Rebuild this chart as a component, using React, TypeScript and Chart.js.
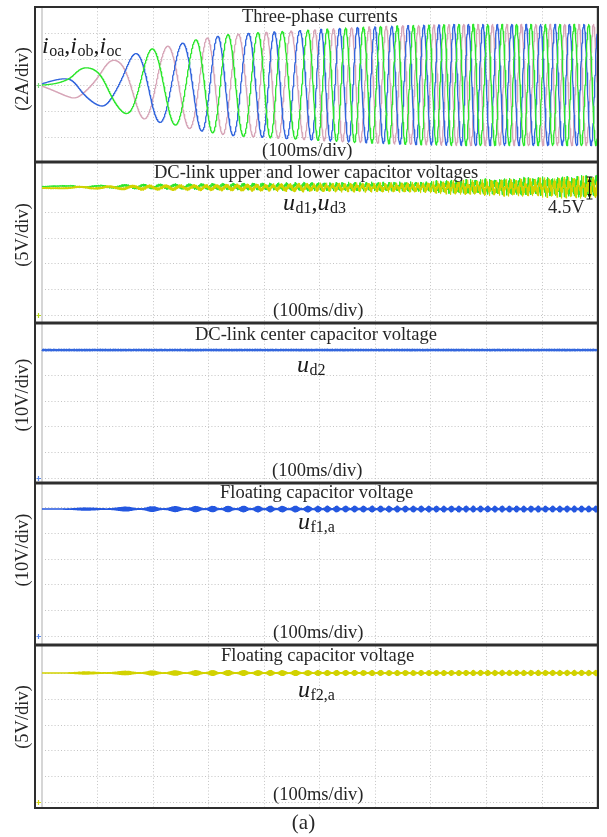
import { useEffect, useRef } from "react";
import { Chart, registerables } from "chart.js";

Chart.register(...registerables);

const FONT = '"Liberation Serif", "Times New Roman", serif';
const TEXT_COLOR = "#262626";

// Time axis in ms (100 ms per division)
const T_START = -12.6;
const T_END = 1001.8;
const T_RECORD = 1000;
const SAMPLE_MS = 0.5;
const X_GRID_MS = [100, 200, 300, 400, 500, 600, 700, 800, 900];

// Phase-a electrical angle (in cycles) at the instants where the currents peak
const phaseKnotMs = [0, 47, 74, 104, 126, 150, 168, 198, 277, 335, 389, 433, 479, 514, 547, 579, 610, 640, 669, 697, 724, 751, 777, 803, 829, 855, 881, 907, 933, 959, 985];
const phaseKnotCycles = [0, 0.083, 0.25, 0.417, 0.583, 0.75, 0.917, 1.25, 2.25, 3.25, 4.25, 5.25, 6.25, 7.25, 8.25, 9.25, 10.25, 11.25, 12.25, 13.25, 14.25, 15.25, 16.25, 17.25, 18.25, 19.25, 20.25, 21.25, 22.25, 23.25, 24.25];

// Output current peak amplitude (A)
const currentEnvMs = [0, 40, 74, 104, 150, 198, 240, 277, 335, 389, 479, 560, 650, 750, 1000];
const currentEnvA = [0.1, 0.8, 1.3, 1.6, 2.2, 2.8, 3.1, 3.5, 3.9, 4.05, 4.25, 4.45, 4.6, 4.7, 4.7];

// DC-link upper / lower capacitor voltages (V)
const ud1Level = 24.9;
const ud3Level = 24.7;
const udRippleMs = [0, 100, 170, 300, 465, 690, 720, 850, 1000];
const udRippleV = [0.2, 0.3, 0.5, 0.6, 0.8, 0.95, 1.25, 1.65, 2.2];

// DC-link center capacitor voltage (V)
const ud2Level = 49.6;
const ud2RippleV = 0.28;

// Floating capacitor voltages (V)
const uf1Level = 49.2;
const uf1RippleMs = [0, 30, 100, 200, 300, 500, 1000];
const uf1RippleV = [0, 0.1, 0.5, 0.85, 0.98, 1.05, 1.08];
const uf2Level = 25.0;
const uf2RippleMs = [0, 30, 100, 200, 300, 1000];
const uf2RippleV = [0, 0.05, 0.25, 0.38, 0.44, 0.47];

function linear(xs: number[], ys: number[]) {
  return (x: number) => {
    if (x <= xs[0]) return ys[0];
    if (x >= xs[xs.length - 1]) return ys[ys.length - 1];
    let i = 0;
    while (x > xs[i + 1]) i++;
    const f = (x - xs[i]) / (xs[i + 1] - xs[i]);
    return ys[i] + f * (ys[i + 1] - ys[i]);
  };
}

function monotone(xs: number[], ys: number[]) {
  const n = xs.length;
  const h: number[] = [];
  const d: number[] = [];
  for (let i = 0; i < n - 1; i++) {
    h[i] = xs[i + 1] - xs[i];
    d[i] = (ys[i + 1] - ys[i]) / h[i];
  }
  const m: number[] = new Array(n);
  m[0] = d[0];
  m[n - 1] = d[n - 2];
  for (let i = 1; i < n - 1; i++) {
    if (d[i - 1] * d[i] <= 0) m[i] = 0;
    else {
      const w1 = 2 * h[i] + h[i - 1];
      const w2 = h[i] + 2 * h[i - 1];
      m[i] = (w1 + w2) / (w1 / d[i - 1] + w2 / d[i]);
    }
  }
  return (x: number) => {
    if (x <= xs[0]) return ys[0] + m[0] * (x - xs[0]);
    if (x >= xs[n - 1]) return ys[n - 1] + m[n - 1] * (x - xs[n - 1]);
    let i = 0;
    while (x > xs[i + 1]) i++;
    const t = (x - xs[i]) / h[i];
    const t2 = t * t;
    const t3 = t2 * t;
    return (
      (2 * t3 - 3 * t2 + 1) * ys[i] +
      (t3 - 2 * t2 + t) * h[i] * m[i] +
      (-2 * t3 + 3 * t2) * ys[i + 1] +
      (t3 - t2) * h[i] * m[i + 1]
    );
  };
}

const phaseAt = monotone(phaseKnotMs, phaseKnotCycles);
const currentEnv = linear(currentEnvMs, currentEnvA);
const udEnv = linear(udRippleMs, udRippleV);
const uf1Env = linear(uf1RippleMs, uf1RippleV);
const uf2Env = linear(uf2RippleMs, uf2RippleV);

type Pt = { x: number; y: number };

function sampleTimes(): number[] {
  const out: number[] = [];
  for (let t = 0; t <= T_RECORD + 1e-9; t += SAMPLE_MS) out.push(+t.toFixed(3));
  return out;
}
const times = sampleTimes();
const TWO_PI = Math.PI * 2;

function phaseCurrent(shift: number): Pt[] {
  return times.map((t) => ({ x: t, y: currentEnv(t) * Math.sin(TWO_PI * (phaseAt(t) - shift)) }));
}

function dcLinkSide(level: number, sign: number, offset: number): Pt[] {
  return times.map((t, i) => {
    const th = phaseAt(t);
    const alt = (i >> 1) % 2 === 0 ? 1 : -1;
    const w = 0.45 + 0.55 * Math.abs(Math.sin(TWO_PI * (t / 7.7 + offset)));
    const low = 0.55 * Math.sin(TWO_PI * (3 * th + offset));
    return { x: t, y: level + sign * udEnv(t) * (low + 0.5 * alt * w) };
  });
}

function centerCap(): Pt[] {
  return times.map((t, i) => {
    const alt = i % 2 === 0 ? 1 : -1;
    const w = 0.4 + 0.6 * Math.abs(Math.sin(TWO_PI * t / 9.3));
    return { x: t, y: ud2Level + ud2RippleV * alt * w };
  });
}

function floatingCap(level: number, env: (t: number) => number): Pt[] {
  return times.map((t, i) => {
    const alt = i % 2 === 0 ? 1 : -1;
    const bead = Math.pow(Math.abs(Math.sin(TWO_PI * phaseAt(t))), 3);
    return { x: t, y: level + env(t) * (0.12 + 0.88 * bead) * alt };
  });
}

type Txt = { text: string; x: number; y: number };
type SubLabel = { x: number; y: number; parts: [string, string][] };
type PanelDef = {
  top: number;
  bottom: number;
  groundPx: number;
  perDiv: number;
  yGrid: number[];
  title: Txt;
  scaleNote: Txt;
  yLabel: Txt;
  label: SubLabel;
  markerColor: string;
  series: { data: Pt[]; color: string; width: number }[];
  extra?: (ctx: CanvasRenderingContext2D, top: number) => void;
};

const PX_PER_DIV = 25.8;
const GREEN = "#2de62d";
const PINK = "#d7a6b8";
const BLUE = "#3366dd";
const YELLOW = "#d2d200";

const panels: PanelDef[] = [
  {
    top: 7,
    bottom: 161.5,
    groundPx: 85,
    perDiv: 2,
    yGrid: [-4, -2, 0, 2, 4],
    title: { text: "Three-phase currents", x: 242, y: 22 },
    scaleNote: { text: "(100ms/div)", x: 262, y: 156 },
    yLabel: { text: "(2A/div)", x: 23, y: 79 },
    label: { x: 42, y: 53, parts: [["i", "oa"], ["i", "ob"], ["i", "oc"]] },
    markerColor: "#7ad87a",
    series: [
      { data: phaseCurrent(0), color: GREEN, width: 1.3 },
      { data: phaseCurrent(2 / 3), color: BLUE, width: 1.3 },
      { data: phaseCurrent(1 / 3), color: PINK, width: 1.3 },
    ],
  },
  {
    top: 162.5,
    bottom: 322.5,
    groundPx: 315,
    perDiv: 5,
    yGrid: [0, 5, 10, 15, 20, 25],
    title: { text: "DC-link upper and lower capacitor voltages", x: 154, y: 178 },
    scaleNote: { text: "(100ms/div)", x: 273, y: 316 },
    yLabel: { text: "(5V/div)", x: 23, y: 235 },
    label: { x: 283, y: 210, parts: [["u", "d1"], ["u", "d3"]] },
    markerColor: "#b8d820",
    series: [
      { data: dcLinkSide(ud3Level, -1, 0.13), color: YELLOW, width: 1.1 },
      { data: dcLinkSide(ud1Level, 1, 0.0), color: GREEN, width: 1.0 },
    ],
    extra: (ctx, top) => {
      ctx.save();
      ctx.fillStyle = TEXT_COLOR;
      ctx.font = `18.5px ${FONT}`;
      ctx.textBaseline = "alphabetic";
      ctx.textAlign = "left";
      ctx.fillText("4.5V", 548, 213 - top);
      ctx.strokeStyle = "#111";
      ctx.lineWidth = 1;
      const x = 589.5;
      const y1 = 177 - top;
      const y2 = 199 - top;
      ctx.beginPath();
      ctx.moveTo(x, y1);
      ctx.lineTo(x, y2);
      ctx.moveTo(x - 3, y1);
      ctx.lineTo(x + 3, y1);
      ctx.moveTo(x - 3, y2);
      ctx.lineTo(x + 3, y2);
      ctx.stroke();
      ctx.fillStyle = "#111";
      ctx.beginPath();
      ctx.moveTo(x, y1 + 1);
      ctx.lineTo(x - 2, y1 + 5);
      ctx.lineTo(x + 2, y1 + 5);
      ctx.closePath();
      ctx.moveTo(x, y2 - 1);
      ctx.lineTo(x - 2, y2 - 5);
      ctx.lineTo(x + 2, y2 - 5);
      ctx.closePath();
      ctx.fill();
      ctx.restore();
    },
  },
  {
    top: 323.5,
    bottom: 482.5,
    groundPx: 478,
    perDiv: 10,
    yGrid: [0, 10, 20, 30, 40, 50],
    title: { text: "DC-link center capacitor voltage", x: 195, y: 340 },
    scaleNote: { text: "(100ms/div)", x: 272, y: 476 },
    yLabel: { text: "(10V/div)", x: 23, y: 395 },
    label: { x: 297, y: 372, parts: [["u", "d2"]] },
    markerColor: "#5a88e8",
    series: [{ data: centerCap(), color: BLUE, width: 1.4 }],
  },
  {
    top: 483.5,
    bottom: 644.5,
    groundPx: 636,
    perDiv: 10,
    yGrid: [0, 10, 20, 30, 40, 50],
    title: { text: "Floating capacitor voltage", x: 220, y: 498 },
    scaleNote: { text: "(100ms/div)", x: 273, y: 638 },
    yLabel: { text: "(10V/div)", x: 23, y: 550 },
    label: { x: 298, y: 529, parts: [["u", "f1,a"]] },
    markerColor: "#5a88e8",
    series: [{ data: floatingCap(uf1Level, uf1Env), color: "#2457e0", width: 1.5 }],
  },
  {
    top: 645.5,
    bottom: 808,
    groundPx: 802,
    perDiv: 5,
    yGrid: [0, 5, 10, 15, 20, 25],
    title: { text: "Floating capacitor voltage", x: 221, y: 661 },
    scaleNote: { text: "(100ms/div)", x: 273, y: 800 },
    yLabel: { text: "(5V/div)", x: 23, y: 717 },
    label: { x: 298, y: 697, parts: [["u", "f2,a"]] },
    markerColor: "#d6d610",
    series: [{ data: floatingCap(uf2Level, uf2Env), color: YELLOW, width: 1.5 }],
  },
];

const PLOT_LEFT = 35;
const PLOT_RIGHT = 598;
const PAGE_W = 607;
const PAD = 4;

function drawSubLabel(ctx: CanvasRenderingContext2D, label: SubLabel, top: number) {
  let x = label.x;
  const y = label.y - top;
  ctx.fillStyle = "#1a1a1a";
  ctx.textAlign = "left";
  ctx.textBaseline = "alphabetic";
  label.parts.forEach(([main, sub], idx) => {
    if (idx > 0) {
      ctx.font = `24px ${FONT}`;
      ctx.fillText(",", x, y);
      x += ctx.measureText(",").width;
    }
    ctx.font = `italic 24px ${FONT}`;
    ctx.fillText(main, x, y);
    x += ctx.measureText(main).width + 0.5;
    ctx.font = `16px ${FONT}`;
    ctx.fillText(sub, x, y + 3);
    x += ctx.measureText(sub).width;
  });
}

function scopePlugin(p: PanelDef, canvasTop: number) {
  return {
    id: "scopeScreen",
    beforeDatasetsDraw(chart: Chart) {
      const ctx = chart.ctx;
      const xs = chart.scales.x;
      const ys = chart.scales.y;
      const area = chart.chartArea;
      ctx.save();
      // screen edges
      ctx.strokeStyle = "#d6d6d6";
      ctx.lineWidth = 2;
      [0, T_RECORD].forEach((t) => {
        const px = xs.getPixelForValue(t);
        ctx.beginPath();
        ctx.moveTo(px, area.top);
        ctx.lineTo(px, area.bottom);
        ctx.stroke();
      });
      // dotted divisions
      ctx.strokeStyle = "#c4c4c4";
      ctx.lineWidth = 1;
      ctx.setLineDash([1, 2.2]);
      X_GRID_MS.forEach((t) => {
        const px = Math.round(xs.getPixelForValue(t)) + 0.5;
        ctx.beginPath();
        ctx.moveTo(px, area.top + 1);
        ctx.lineTo(px, area.bottom - 1);
        ctx.stroke();
      });
      const x0 = xs.getPixelForValue(0) + 3;
      const x1 = xs.getPixelForValue(T_RECORD) - 2;
      p.yGrid.forEach((v) => {
        const py = Math.round(ys.getPixelForValue(v)) + 0.5;
        ctx.beginPath();
        ctx.moveTo(x0, py);
        ctx.lineTo(x1, py);
        ctx.stroke();
      });
      ctx.restore();
    },
    afterDatasetsDraw(chart: Chart) {
      const ctx = chart.ctx;
      const area = chart.chartArea;
      const ys = chart.scales.y;
      ctx.save();
      // channel ground marker
      const gy = Math.round(ys.getPixelForValue(0)) + 0.5;
      ctx.strokeStyle = p.markerColor;
      ctx.lineWidth = 1.2;
      ctx.beginPath();
      ctx.moveTo(area.left + 1.5, gy);
      ctx.lineTo(area.left + 6, gy);
      ctx.moveTo(area.left + 3.5, gy - 2.5);
      ctx.lineTo(area.left + 3.5, gy + 2.5);
      ctx.stroke();
      // frame
      ctx.strokeStyle = "#2e2e2e";
      ctx.lineWidth = 2;
      ctx.strokeRect(area.left, area.top, area.right - area.left, area.bottom - area.top);
      // texts
      ctx.fillStyle = TEXT_COLOR;
      ctx.font = `18.5px ${FONT}`;
      ctx.textAlign = "left";
      ctx.textBaseline = "alphabetic";
      ctx.fillText(p.title.text, p.title.x, p.title.y - canvasTop);
      ctx.fillText(p.scaleNote.text, p.scaleNote.x, p.scaleNote.y - canvasTop);
      ctx.save();
      ctx.translate(p.yLabel.x, p.yLabel.y - canvasTop);
      ctx.rotate(-Math.PI / 2);
      ctx.textAlign = "center";
      ctx.textBaseline = "middle";
      ctx.fillText(p.yLabel.text, 0, 0);
      ctx.restore();
      drawSubLabel(ctx, p.label, canvasTop);
      if (p.extra) p.extra(ctx, canvasTop);
      ctx.restore();
    },
  };
}

function Panel({ def }: { def: PanelDef }) {
  const ref = useRef<HTMLCanvasElement | null>(null);
  const canvasTop = Math.floor(def.top) - PAD;
  const padTop = def.top - canvasTop;
  const height = Math.ceil(def.bottom) + PAD - canvasTop;
  const padBottom = height - (def.bottom - canvasTop);

  useEffect(() => {
    const canvas = ref.current;
    if (!canvas) return;
    const yMax = ((def.groundPx - def.top) / PX_PER_DIV) * def.perDiv;
    const yMin = (-(def.bottom - def.groundPx) / PX_PER_DIV) * def.perDiv;
    const chart = new Chart(canvas, {
      type: "line",
      data: {
        datasets: def.series.map((s) => ({
          data: s.data,
          borderColor: s.color,
          borderWidth: s.width,
          borderJoinStyle: "round" as const,
          pointRadius: 0,
          tension: 0,
          fill: false,
        })),
      },
      options: {
        animation: false,
        responsive: false,
        maintainAspectRatio: false,
        devicePixelRatio: 1,
        parsing: false,
        normalized: true,
        events: [],
        layout: { padding: { left: PLOT_LEFT, right: PAGE_W - PLOT_RIGHT, top: padTop, bottom: padBottom } },
        plugins: { legend: { display: false }, tooltip: { enabled: false }, title: { display: false } },
        scales: {
          x: { type: "linear", min: T_START, max: T_END, display: false },
          y: { type: "linear", min: yMin, max: yMax, display: false },
        },
      },
      plugins: [scopePlugin(def, canvasTop)],
    } as any);
    return () => chart.destroy();
  }, [def]);

  return (
    <canvas
      ref={ref}
      width={PAGE_W}
      height={height}
      style={{ position: "absolute", left: 0, top: canvasTop, width: PAGE_W, height }}
    />
  );
}

export default function App() {
  return (
    <div style={{ position: "absolute", left: 0, top: 0, width: PAGE_W, height: 837, background: "#fff", overflow: "hidden" }}>
      {panels.map((p, i) => (
        <Panel key={i} def={p} />
      ))}
      <div
        style={{
          position: "absolute",
          left: 0,
          top: 811,
          width: PAGE_W,
          textAlign: "center",
          fontFamily: FONT,
          fontSize: 21,
          lineHeight: "22px",
          color: TEXT_COLOR,
        }}
      >
        (a)
      </div>
    </div>
  );
}
